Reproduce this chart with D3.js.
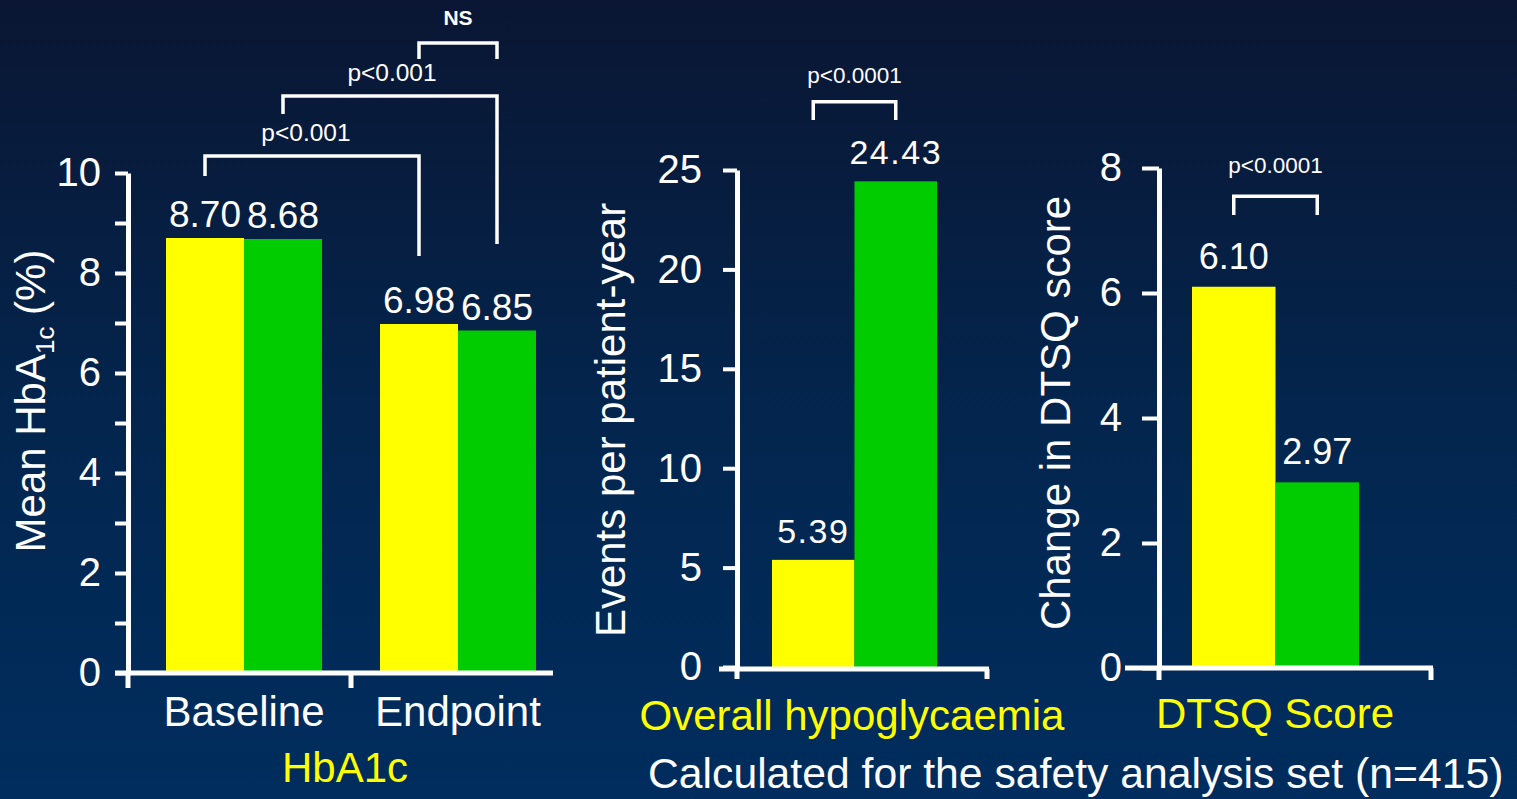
<!DOCTYPE html>
<html><head><meta charset="utf-8">
<script src="https://cdn.jsdelivr.net/npm/d3@7"></script>
<style>html,body{margin:0;padding:0;background:#06183a;overflow:hidden}</style>
</head><body><svg id="c" width="1517" height="799"></svg>
<script>
// ---------- data ----------
const seriesKeys = ["yellow", "green"];
const seriesColors = ["#ffff00", "#00cc00"];
const hbaCategories = ["Baseline", "Endpoint"];
const hbaYellow = [8.70, 6.98];
const hbaGreen = [8.68, 6.85];
const hbaLabels = [["8.70", "8.68"], ["6.98", "6.85"]];
const hbaTicks = [0, 2, 4, 6, 8, 10];
const hypoValues = [5.39, 24.43];
const hypoLabels = ["5.39", "24.43"];
const hypoTicks = [0, 5, 10, 15, 20, 25];
const dtsqValues = [6.10, 2.97];
const dtsqLabels = ["6.10", "2.97"];
const dtsqTicks = [0, 2, 4, 6, 8];
const panelTitles = ["HbA1c", "Overall hypoglycaemia", "DTSQ Score"];
const yTitles = ["Events per patient-year", "Change in DTSQ score"];
const footnote = "Calculated for the safety analysis set (n=415)";
const pLabels = ["p<0.001", "p<0.001", "NS", "p<0.0001", "p<0.0001"];

// ---------- setup ----------
const svg = d3.select("#c");
const FONT = "'Liberation Sans', Arial, Helvetica, sans-serif";
const defs = svg.append("defs");
const grad = defs.append("linearGradient").attr("id", "bg").attr("x1", 0).attr("y1", 0).attr("x2", 0).attr("y2", 1);
grad.append("stop").attr("offset", "0%").attr("stop-color", "#0a1633");
grad.append("stop").attr("offset", "55%").attr("stop-color", "#03264f");
grad.append("stop").attr("offset", "100%").attr("stop-color", "#002d5e");
svg.append("rect").attr("width", 1517).attr("height", 799).attr("fill", "url(#bg)");

function yAxis(g, scale, ticks, tickLen, pad, fontSize) {
  const ax = d3.axisLeft(scale).tickValues(ticks).tickSize(tickLen).tickSizeOuter(0).tickPadding(pad);
  g.call(ax);
  g.select(".domain").attr("stroke", "#fff").attr("stroke-width", 5);
  g.selectAll(".tick line").attr("stroke", "#fff").attr("stroke-width", 4);
  g.selectAll(".tick text").attr("fill", "#fff").attr("font-size", fontSize).attr("font-family", FONT);
}
function xAxisLine(g, x0, x1, y, downTicks, downLen) {
  g.append("line").attr("x1", x0).attr("x2", x1).attr("y1", y).attr("y2", y)
    .attr("stroke", "#fff").attr("stroke-width", 5);
  downTicks.forEach(t => g.append("line").attr("x1", t).attr("x2", t).attr("y1", y).attr("y2", y + downLen)
    .attr("stroke", "#fff").attr("stroke-width", 5));
}
function bracket(g, xl, xr, yTop, yl, yr) {
  g.append("path").attr("d", `M${xl},${yl}V${yTop}H${xr}V${yr}`)
    .attr("fill", "none").attr("stroke", "#fff").attr("stroke-width", 3.5);
}
function label(g, x, y, text, size, opts = {}) {
  return g.append("text").attr("x", x).attr("y", y).text(text)
    .attr("fill", opts.fill || "#fff").attr("font-size", size).attr("font-family", opts.family || FONT)
    .attr("text-anchor", opts.anchor || "middle").attr("letter-spacing", opts.ls || 0)
    .attr("font-weight", opts.weight || "normal");
}
function rotTitle(g, x, y, size) {
  return g.append("text").attr("transform", `translate(${x},${y}) rotate(-90)`)
    .attr("fill", "#fff").attr("font-size", size).attr("font-family", FONT).attr("text-anchor", "middle");
}

// ---------- Panel 1: HbA1c ----------
const p1 = svg.append("g");
const y1 = d3.scaleLinear().domain([0, 10]).range([673, 173]);
const x1 = d3.scaleBand().domain(hbaCategories).range([166, 536]).paddingInner(0.271).paddingOuter(0);
const x1s = d3.scaleBand().domain(seriesKeys).range([0, x1.bandwidth()]);
const hbaData = hbaCategories.map((c, i) => ({ cat: c, vals: [hbaYellow[i], hbaGreen[i]], labels: hbaLabels[i] }));
const grp = p1.selectAll("g.grp").data(hbaData).join("g").attr("transform", d => `translate(${x1(d.cat)},0)`);
grp.selectAll("rect").data(d => d.vals.map((v, j) => ({ v, k: seriesKeys[j], c: seriesColors[j] })))
  .join("rect").attr("x", d => x1s(d.k)).attr("width", x1s.bandwidth())
  .attr("y", d => y1(d.v)).attr("height", d => y1(0) - y1(d.v)).attr("fill", d => d.c);
grp.each(function (d) {
  const g = d3.select(this);
  d.vals.forEach((v, j) => label(g, x1s(seriesKeys[j]) + x1s.bandwidth() / 2, y1(v) - 11, d.labels[j], 37));
});
const ya1 = p1.append("g").attr("transform", `translate(128,0)`);
yAxis(ya1, y1, d3.range(0, 11, 1), 13, 14, 40);
ya1.selectAll(".tick text").text(d => hbaTicks.includes(d) ? d : "");
const divider = (x1("Baseline") + x1.bandwidth() + x1("Endpoint")) / 2;
xAxisLine(p1, 115, 553, y1(0), [128, divider], 15);
hbaCategories.forEach(c => label(p1, x1(c) + x1.bandwidth() / 2, 726, c, 42));
label(p1, 345, 782, panelTitles[0], 42, { fill: "#ffff00" });
const t1 = rotTitle(p1, 45, 401, 42);
t1.append("tspan").text("Mean HbA");
t1.append("tspan").text("1c").attr("font-size", 26).attr("dy", 9);
t1.append("tspan").text(" (%)").attr("dy", -9);
// significance brackets
const cY = x => x1("Baseline") + x1s(x) + x1s.bandwidth() / 2;
const cE = x => x1("Endpoint") + x1s(x) + x1s.bandwidth() / 2;
bracket(p1, cY("yellow"), cE("yellow"), y1(10.34), y1(9.94), y1(8.34));
label(p1, (cY("yellow") + cE("yellow")) / 2 - 6, y1(10.64), pLabels[0], 24.5);
bracket(p1, cY("green"), cE("green"), y1(11.54), y1(11.18), y1(8.58));
label(p1, (cY("green") + cE("green")) / 2 + 2, y1(11.84), pLabels[1], 24.5);
bracket(p1, cE("yellow"), cE("green"), y1(12.6), y1(12.28), y1(12.28));
label(p1, (cE("yellow") + cE("green")) / 2, y1(12.96), pLabels[2], 21, { weight: "bold" });

// ---------- Panel 2: hypoglycaemia ----------
const p2 = svg.append("g");
const y2 = d3.scaleLinear().domain([0, 25]).range([667, 170]);
const x2 = d3.scaleBand().domain(seriesKeys).range([772, 937]);
p2.selectAll("rect").data(hypoValues).join("rect")
  .attr("x", (d, i) => x2(seriesKeys[i])).attr("width", x2.bandwidth())
  .attr("y", d => y2(d)).attr("height", d => y2(0) - y2(d)).attr("fill", (d, i) => seriesColors[i]);
hypoValues.forEach((v, i) => label(p2, x2(seriesKeys[i]) + x2.bandwidth() / 2, y2(v) - 17, hypoLabels[i], 34, { ls: 1.5 }));
const ya2 = p2.append("g").attr("transform", `translate(737,0)`);
yAxis(ya2, y2, hypoTicks, 14, 21, 40);
xAxisLine(p2, 719, 989, 669, [737, 987], 10);
label(p2, 852, 730, panelTitles[1], 42, { fill: "#ffff00" });
rotTitle(p2, 625, 420, 42).text(yTitles[0]);
const c2 = k => x2(k) + x2.bandwidth() / 2;
bracket(p2, c2("yellow"), c2("green"), y2(28.43), y2(27.52), y2(27.52));
label(p2, (c2("yellow") + c2("green")) / 2, y2(29.38), pLabels[3], 22.5);

// ---------- Panel 3: DTSQ ----------
const p3 = svg.append("g");
const y3 = d3.scaleLinear().domain([0, 8]).range([668, 168]);
const x3 = d3.scaleBand().domain(seriesKeys).range([1192, 1359]);
p3.selectAll("rect").data(dtsqValues).join("rect")
  .attr("x", (d, i) => x3(seriesKeys[i])).attr("width", x3.bandwidth())
  .attr("y", d => y3(d)).attr("height", d => y3(0) - y3(d)).attr("fill", (d, i) => seriesColors[i]);
dtsqValues.forEach((v, i) => label(p3, x3(seriesKeys[i]) + x3.bandwidth() / 2, y3(v) - 18, dtsqLabels[i], 36));
const ya3 = p3.append("g").attr("transform", `translate(1159,0)`);
yAxis(ya3, y3, dtsqTicks, 17, 20, 40);
xAxisLine(p3, 1125, 1433, y3(0), [1159, 1431], 12);
label(p3, 1275, 728, panelTitles[2], 42, { fill: "#ffff00" });
rotTitle(p3, 1070, 413, 42).text(yTitles[1]);
const c3 = k => x3(k) + x3.bandwidth() / 2;
bracket(p3, c3("yellow"), c3("green"), y3(7.55), y3(7.25), y3(7.25));
label(p3, (c3("yellow") + c3("green")) / 2, y3(7.92), pLabels[4], 22.5);

// ---------- footnote ----------
label(svg, 648, 788, footnote, 42.7, { anchor: "start" });
</script></body></html>
